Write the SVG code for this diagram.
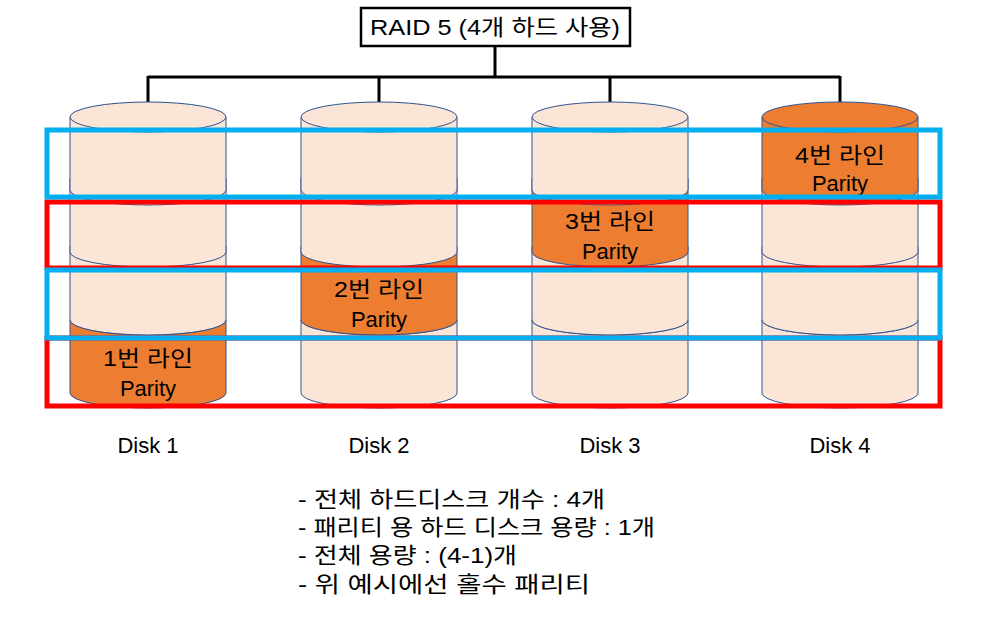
<svg xmlns="http://www.w3.org/2000/svg" width="985" height="621" viewBox="0 0 985 621">
<style>
text{font-family:"Liberation Sans","Noto Sans CJK KR",sans-serif;font-size:22px;fill:#000}
.c{text-anchor:middle}
.l{fill:#FBE5D6;stroke:#2F528F;stroke-width:1}
.o{fill:#ED7D31;stroke:#2F528F;stroke-width:1}
.red{fill:none;stroke:#FF0000;stroke-width:5}
.blue{fill:none;stroke:#00B0F0;stroke-width:5}
.cn{fill:none;stroke:#000;stroke-width:3}
</style>
<defs>
<g id="cyl"><path d="M-78 0 V73 A78 15 0 0 0 78 73 V0"/><ellipse cx="0" cy="0" rx="78" ry="15"/></g>
</defs>
<rect width="985" height="621" fill="#fff"/>
<g id="title"><rect x="361" y="8" width="269" height="38" fill="#fff" stroke="#000" stroke-width="2.5"/>
<text class="c" x="495" y="35" textLength="250" lengthAdjust="spacingAndGlyphs">RAID 5 (4개 하드 사용)</text></g>
<g id="connectors">
<path class="cn" d="M495 46 V77 M148 77 H840 M148 76 V103 M379 76 V103 M610 76 V103 M840 76 V103"/>
</g>
<g id="disk1" transform="translate(148,0)">
<use href="#cyl" y="320" class="o"/><use href="#cyl" y="247" class="l"/><use href="#cyl" y="179" class="l"/><use href="#cyl" y="117" class="l"/>
<text class="c" y="366" textLength="90" lengthAdjust="spacingAndGlyphs">1번 라인</text><text class="c" y="396">Parity</text>
<text class="c" y="453">Disk 1</text></g>
<g id="disk2" transform="translate(379,0)">
<use href="#cyl" y="320" class="l"/><use href="#cyl" y="247" class="o"/><use href="#cyl" y="179" class="l"/><use href="#cyl" y="117" class="l"/>
<text class="c" y="297" textLength="90" lengthAdjust="spacingAndGlyphs">2번 라인</text><text class="c" y="327">Parity</text>
<text class="c" y="453">Disk 2</text></g>
<g id="disk3" transform="translate(610,0)">
<use href="#cyl" y="320" class="l"/><use href="#cyl" y="247" class="l"/><use href="#cyl" y="179" class="o"/><use href="#cyl" y="117" class="l"/>
<text class="c" y="229" textLength="90" lengthAdjust="spacingAndGlyphs">3번 라인</text><text class="c" y="259">Parity</text>
<text class="c" y="453">Disk 3</text></g>
<g id="disk4" transform="translate(840,0)">
<use href="#cyl" y="320" class="l"/><use href="#cyl" y="247" class="l"/><use href="#cyl" y="179" class="l"/><use href="#cyl" y="117" class="o"/>
<text class="c" y="163" textLength="90" lengthAdjust="spacingAndGlyphs">4번 라인</text><text class="c" y="191">Parity</text>
<text class="c" y="453">Disk 4</text></g>
<g id="lines">
<rect class="red" x="47" y="202" width="893" height="66"/>
<rect class="red" x="47" y="338" width="893" height="68"/>
<rect class="blue" x="47" y="130" width="893" height="67"/>
<rect class="blue" x="47" y="270" width="893" height="68"/>
</g>
<g id="notes">
<text x="298" y="507" textLength="307" lengthAdjust="spacingAndGlyphs">- 전체 하드디스크 개수 : 4개</text>
<text x="298" y="535" textLength="357" lengthAdjust="spacingAndGlyphs">- 패리티 용 하드 디스크 용량 : 1개</text>
<text x="298" y="563" textLength="219" lengthAdjust="spacingAndGlyphs">- 전체 용량 : (4-1)개</text>
<text x="298" y="592" textLength="292" lengthAdjust="spacingAndGlyphs">-   위 예시에선 홀수 패리티</text>
</g>
</svg>
